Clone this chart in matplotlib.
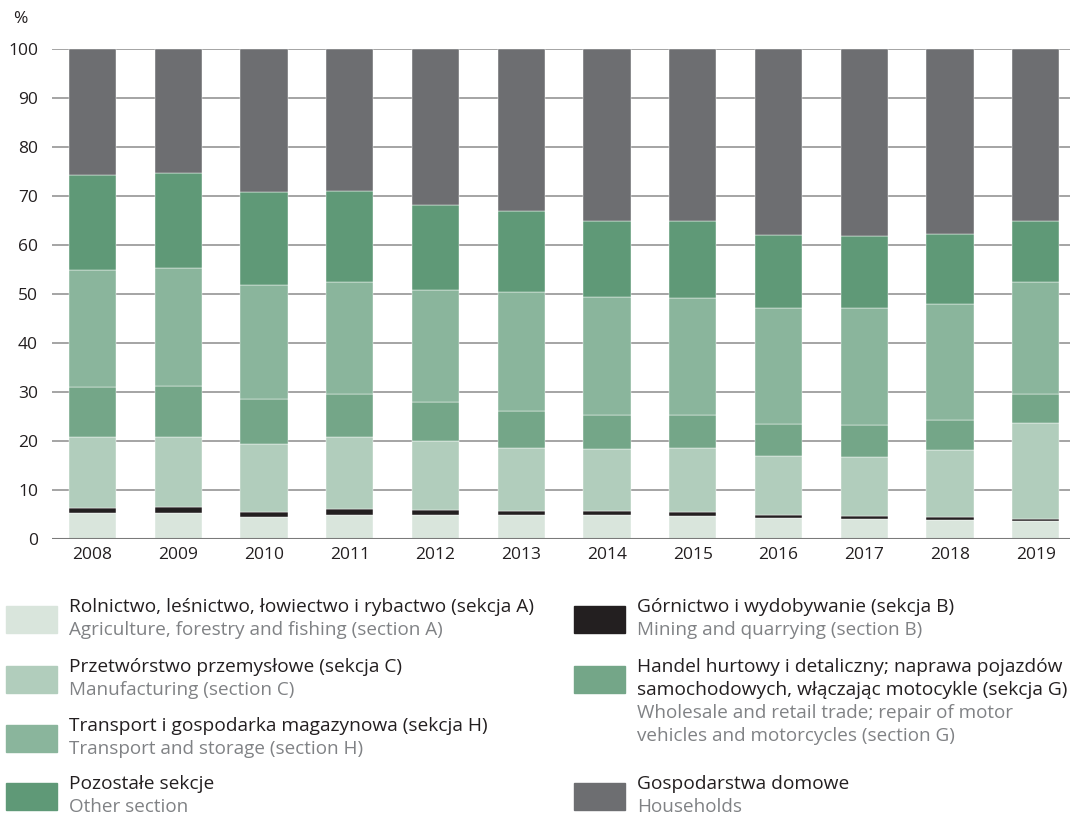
import matplotlib.pyplot as plt
import numpy as np

plt.rcParams['font.family'] = ['Open Sans', 'DejaVu Sans']

years = ['2008', '2009', '2010', '2011', '2012', '2013', '2014', '2015',
         '2016', '2017', '2018', '2019']

# shares in %, stacked bottom to top
agriculture = [5.3, 5.4, 4.5, 4.8, 4.8, 4.8, 4.8, 4.7, 4.2, 4.0, 3.9, 3.7]
mining = [1.1, 1.1, 1.0, 1.3, 1.1, 0.9, 0.9, 0.8, 0.8, 0.7, 0.6, 0.4]
manufacturing = [14.5, 14.4, 13.9, 14.8, 14.2, 12.9, 12.7, 13.1, 11.9, 12.0, 13.7, 19.6]
trade = [10.1, 10.4, 9.1, 8.6, 7.9, 7.5, 7.0, 6.8, 6.6, 6.6, 6.1, 5.8]
transport = [23.9, 24.0, 23.3, 23.0, 22.8, 24.3, 24.0, 23.7, 23.6, 23.8, 23.6, 22.9]
other = [19.4, 19.4, 19.0, 18.5, 17.4, 16.5, 15.6, 15.7, 14.9, 14.7, 14.3, 12.6]
households = [25.7, 25.3, 29.2, 29.0, 31.8, 33.1, 35.0, 35.2, 38.0, 38.2, 37.8, 35.0]

series = [agriculture, mining, manufacturing, trade, transport, other, households]
colors = ['#d9e5dc', '#231f20', '#b1cdbc', '#74a688', '#8ab59c', '#5f9977', '#6d6e71']

fig = plt.figure(figsize=(10.72, 8.18), dpi=100)
ax = fig.add_axes([52 / 1072, 279 / 818, 1018 / 1072, 490 / 818])

x = np.arange(len(years))
bottom = np.zeros(len(years))
for vals, c in zip(series, colors):
    ax.bar(x, vals, width=0.55, bottom=bottom, color=c, edgecolor='white',
           linewidth=0.3, zorder=2)
    bottom += np.array(vals)

for yv in range(10, 101, 10):
    ax.axhline(yv, color='#9d9d9d', linewidth=1.3, zorder=1)
ax.axhline(0, color='#7a7a7a', linewidth=1.5, zorder=3)

ax.set_xlim(-0.473, 11.4)
ax.set_ylim(0, 100)
ax.set_xticks(x)
ax.set_xticklabels(years)
ax.set_yticks(range(0, 101, 10))
ax.tick_params(length=0, labelsize=12.5, colors='#231f20', pad=6)
ax.tick_params(axis='y', pad=10)
for s in ax.spines.values():
    s.set_visible(False)

fig.text(20 / 1072, 1 - 19 / 818, '%', fontsize=12.5, color='#231f20',
         ha='center', va='center')

# legend drawn by hand: swatch + Polish label + English label
dark = '#231f20'
grey = '#808285'
W, H = 1072, 818

def legend_item(x0, y0, color, lines_pl, lines_en):
    fig.patches.append(plt.Rectangle((x0 / W, 1 - (y0 + 27) / H), 51 / W, 27 / H,
                                     color=color, transform=fig.transFigure))
    ty = y0 + 1
    for t in lines_pl:
        fig.text((x0 + 63) / W, 1 - ty / H, t, fontsize=13.8, color=dark, va='center')
        ty += 23
    for t in lines_en:
        fig.text((x0 + 63) / W, 1 - ty / H, t, fontsize=13.6, color=grey, va='center')
        ty += 23

legend_item(6, 606, colors[0], ['Rolnictwo, leśnictwo, łowiectwo i rybactwo (sekcja A)'],
            ['Agriculture, forestry and fishing (section A)'])
legend_item(6, 666, colors[2], ['Przetwórstwo przemysłowe (sekcja C)'],
            ['Manufacturing (section C)'])
legend_item(6, 725, colors[4], ['Transport i gospodarka magazynowa (sekcja H)'],
            ['Transport and storage (section H)'])
legend_item(6, 783, colors[5], ['Pozostałe sekcje'], ['Other section'])
legend_item(574, 606, colors[1], ['Górnictwo i wydobywanie (sekcja B)'],
            ['Mining and quarrying (section B)'])
legend_item(574, 666, colors[3], ['Handel hurtowy i detaliczny; naprawa pojazdów',
                                  'samochodowych, włączając motocykle (sekcja G)'],
            ['Wholesale and retail trade; repair of motor',
             'vehicles and motorcycles (section G)'])
legend_item(574, 783, colors[6], ['Gospodarstwa domowe'], ['Households'])

fig.savefig('out.png', dpi=100)
